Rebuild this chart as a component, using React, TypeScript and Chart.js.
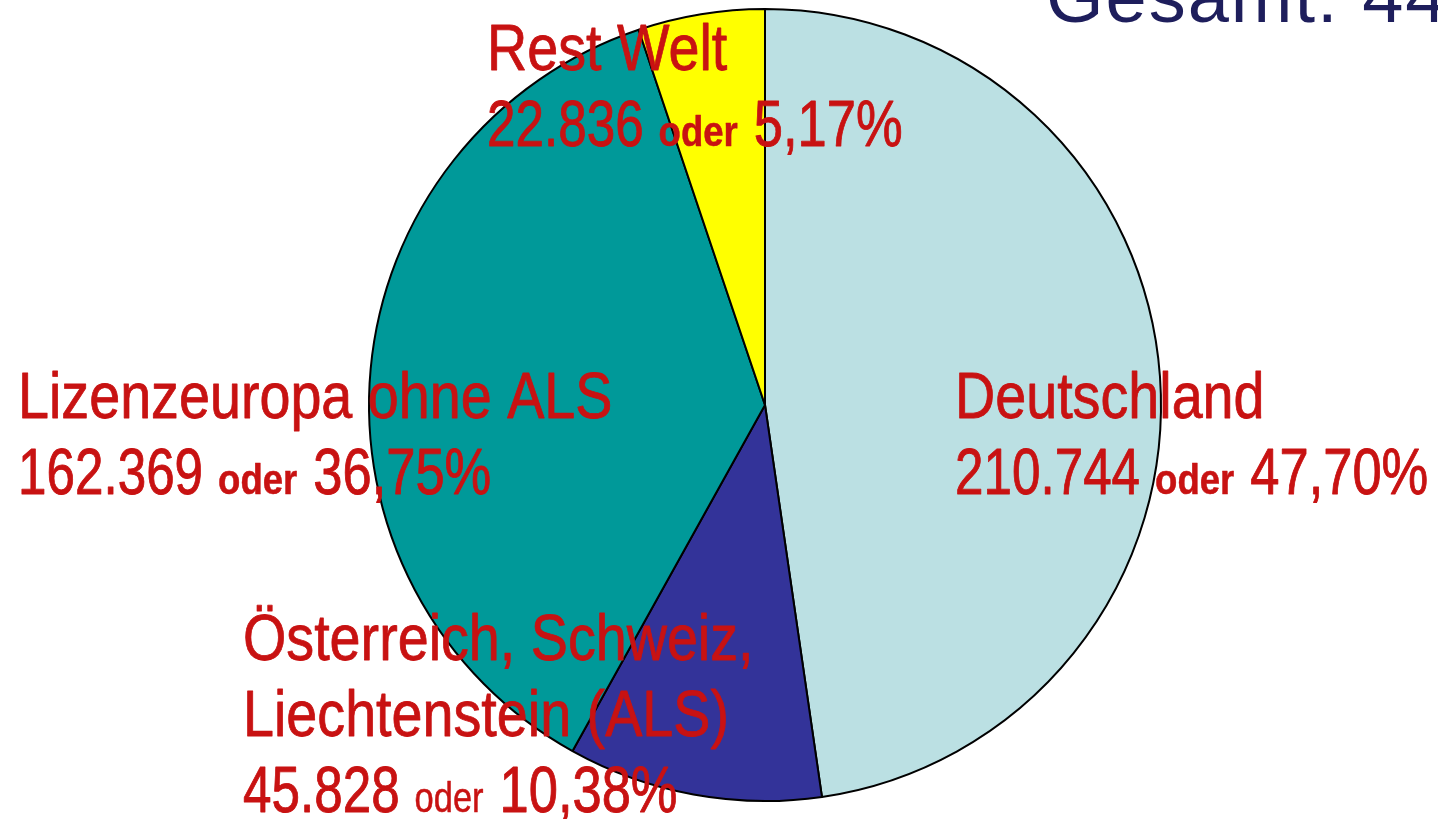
import React, { useEffect, useRef } from "react";
import { Chart, registerables } from "chart.js";

Chart.register(...registerables);

const categories = ["Deutschland", "Österreich, Schweiz, Liechtenstein (ALS)", "Lizenzeuropa ohne ALS", "Rest Welt"];
const values = [210744, 45828, 162369, 22836];
const valueLabels = ["210.744", "45.828", "162.369", "22.836"];
const percentLabels = ["47,70%", "10,38%", "36,75%", "5,17%"];
const colors = ["#bbe0e3", "#333399", "#009999", "#ffff00"];
const titleText = "Gesamt: 441.777";

const RED = "#c81212";
const SANS = "'Liberation Sans', Arial, sans-serif";

const labelLayout = [
  { x: 955, y: 418, lines: ["Deutschland"], oderBold: true },
  { x: 243, y: 660, lines: ["Österreich, Schweiz,", "Liechtenstein (ALS)"], oderBold: false },
  { x: 18, y: 418, lines: ["Lizenzeuropa ohne ALS"], oderBold: true },
  { x: 487, y: 70, lines: ["Rest Welt"], oderBold: true },
];

function drawScaled(ctx: CanvasRenderingContext2D, text: string, x: number, y: number, sx: number, thicken: number): number {
  ctx.save();
  ctx.translate(x, y);
  ctx.scale(sx, 1);
  ctx.fillText(text, 0, 0);
  if (thicken > 0) {
    ctx.lineWidth = thicken;
    ctx.lineJoin = "round";
    ctx.strokeText(text, 0, 0);
  }
  const w = ctx.measureText(text).width * sx;
  ctx.restore();
  return w;
}

const labelPlugin = {
  id: "labels",
  afterDraw(chart: any) {
    const ctx = chart.ctx as CanvasRenderingContext2D;
    ctx.save();
    ctx.textBaseline = "alphabetic";
    ctx.textAlign = "left";
    ctx.fillStyle = "#1e1e5c";
    ctx.font = `74px ${SANS}`;
    (ctx as any).letterSpacing = "2px";
    ctx.fillText(titleText, 1046, 22);
    (ctx as any).letterSpacing = "0px";

    const lh = 76;
    labelLayout.forEach((l, i) => {
      ctx.fillStyle = RED;
      ctx.strokeStyle = RED;
      let y = l.y;
      ctx.font = `64px ${SANS}`;
      l.lines.forEach((t) => {
        drawScaled(ctx, t, l.x, y, 0.87, 0.8);
        y += lh;
      });
      let x = l.x;
      ctx.font = `64px ${SANS}`;
      x += drawScaled(ctx, valueLabels[i], x, y, 0.8, 0.9) + 15;
      ctx.font = `${l.oderBold ? "bold " : ""}42px ${SANS}`;
      x += drawScaled(ctx, "oder", x, y, l.oderBold ? 0.87 : 0.82, 0.5) + 16;
      ctx.font = `64px ${SANS}`;
      drawScaled(ctx, percentLabels[i], x, y, 0.82, 0.9);
    });
    ctx.restore();
  },
};

export default function App() {
  const ref = useRef<HTMLCanvasElement>(null);
  useEffect(() => {
    if (!ref.current) return;
    const chart = new Chart(ref.current, {
      type: "pie",
      data: {
        labels: categories,
        datasets: [
          {
            data: values,
            backgroundColor: colors,
            borderColor: "#000000",
            borderWidth: 2,
          },
        ],
      },
      options: {
        animation: false,
        responsive: true,
        maintainAspectRatio: false,
        layout: { padding: { left: 368, right: 276, top: 8, bottom: 17 } },
        plugins: {
          legend: { display: false },
          tooltip: { enabled: false },
          title: { display: false },
        },
      },
      plugins: [labelPlugin],
    });
    return () => chart.destroy();
  }, []);
  return (
    <div style={{ position: "fixed", left: 0, top: 0, width: 1438, height: 819, background: "#ffffff" }}>
      <canvas ref={ref} />
    </div>
  );
}
